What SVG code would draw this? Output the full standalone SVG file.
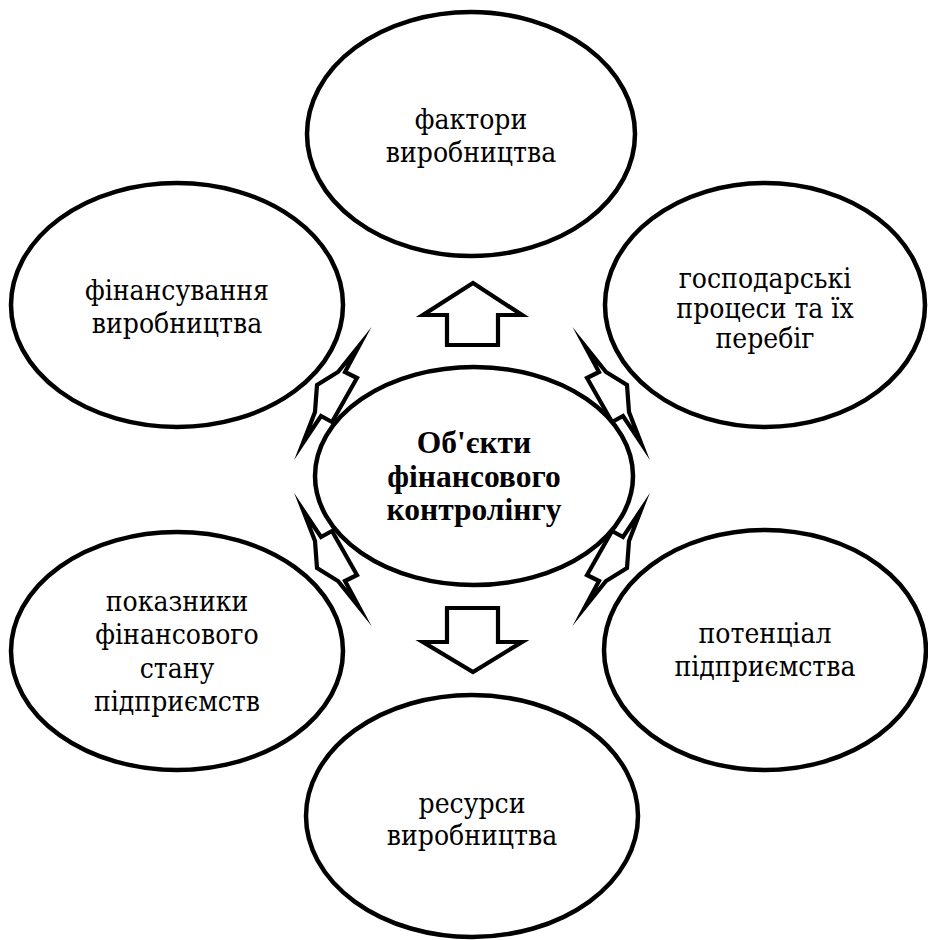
<svg xmlns="http://www.w3.org/2000/svg" xmlns:xlink="http://www.w3.org/1999/xlink" width="928" height="940" viewBox="0 0 928 940">
<style>
.node ellipse{fill:#fff;stroke:#000;stroke-width:4.5}
.node text{font-family:"DejaVu Serif Condensed","DejaVu Serif",serif;font-stretch:condensed;font-size:28px;fill:#000;text-anchor:middle}
.node text.bold{font-family:"Liberation Serif","DejaVu Serif",serif;font-stretch:normal;font-weight:bold;font-size:31.5px}
.arr{fill:#fff;stroke:#000;stroke-width:4.2;stroke-linejoin:miter;stroke-miterlimit:20}
</style>
<defs>
<polygon id="dbl" class="arr" points="359,346 345,372 357,378 332,422 321,416 303,443 315,412 317,385 338,372"/>
</defs>
<rect width="928" height="940" fill="#fff"/>
<g id="connectors">
<polygon class="arr" points="473,283 522,315 498,315 498,345 447,345 447,315 423,315"/>
<polygon class="arr" points="447,608 498,608 498,642 522,642 473,672 423,642 447,642"/>
<use xlink:href="#dbl"/>
<use xlink:href="#dbl" transform="matrix(1,0,0,-1,0,953)"/>
<use xlink:href="#dbl" transform="matrix(-1,0,0,1,944,0)"/>
<use xlink:href="#dbl" transform="matrix(-1,0,0,-1,944,953)"/>
</g>
<g id="n-top" class="node">
<ellipse cx="471" cy="134" rx="164" ry="122"/>
<text x="471" y="129">фактори</text>
<text x="471" y="162">виробництва</text>
</g>
<g id="n-left-up" class="node">
<ellipse cx="177" cy="305" rx="166" ry="122"/>
<text x="177" y="300">фінансування</text>
<text x="177" y="333">виробництва</text>
</g>
<g id="n-right-up" class="node">
<ellipse cx="765" cy="305" rx="160" ry="122"/>
<text x="765" y="288">господарські</text>
<text x="765" y="318">процеси та їх</text>
<text x="765" y="348">перебіг</text>
</g>
<g id="n-center" class="node">
<ellipse cx="474" cy="476" rx="159" ry="109"/>
<text class="bold" x="474" y="453">Об'єкти</text>
<text class="bold" x="474" y="487">фінансового</text>
<text class="bold" x="474" y="520">контролінгу</text>
</g>
<g id="n-left-low" class="node">
<ellipse cx="177" cy="651" rx="166" ry="119"/>
<text x="177" y="611">показники</text>
<text x="177" y="644">фінансового</text>
<text x="177" y="678">стану</text>
<text x="177" y="711">підприємств</text>
</g>
<g id="n-right-low" class="node">
<ellipse cx="765" cy="650" rx="161" ry="120"/>
<text x="765" y="643">потенціал</text>
<text x="765" y="676">підприємства</text>
</g>
<g id="n-bottom" class="node">
<ellipse cx="472" cy="816" rx="166" ry="121"/>
<text x="472" y="813">ресурси</text>
<text x="472" y="845">виробництва</text>
</g>
</svg>
